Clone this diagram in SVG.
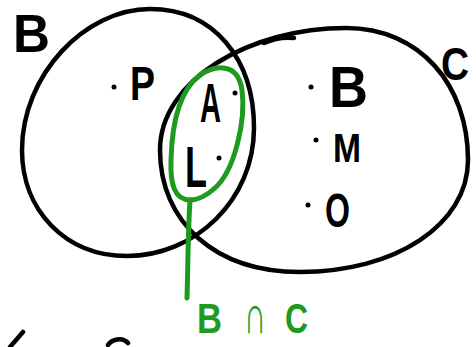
<svg xmlns="http://www.w3.org/2000/svg" width="476" height="347" viewBox="0 0 476 347">
<style>
.ink{fill:none;stroke:#000;stroke-width:4.5;stroke-linecap:round;stroke-linejoin:round}
.grn{fill:none;stroke:#1e9a1e;stroke-width:5;stroke-linecap:round;stroke-linejoin:round}
.t{font-family:"Liberation Sans","DejaVu Sans",sans-serif;font-weight:bold;fill:#000}
.tg{font-family:"Liberation Sans","DejaVu Sans",sans-serif;font-weight:bold;fill:#1e9a1e}
.dot{fill:#000}
</style>
<rect width="476" height="347" fill="#fff"/>
<g id="set-B">
<path class="ink" d="M150,9 C215,9 254,60 254,128 C254,200 195,256 127,256 C65,256 22,210 22,150 C22,75 85,9 150,9 Z"/>
<text class="t" x="13" y="52" font-size="54" textLength="37" lengthAdjust="spacingAndGlyphs">B</text>
</g>
<g id="set-C">
<path class="ink" d="M346,28 C420,28 468,85 468,160 C468,225 395,272 300,272 C215,272 160,222 160,150 C160,80 250,28 346,28 Z"/>
<path class="ink" d="M264,43 C275,38 285,37 294,38"/>
<text class="t" x="441" y="80" font-size="46" textLength="28" lengthAdjust="spacingAndGlyphs">C</text>
</g>
<g id="elem-P">
<circle class="dot" cx="114" cy="87" r="2.5"/>
<text class="t" x="130" y="100" font-size="49" textLength="25" lengthAdjust="spacingAndGlyphs">P</text>
</g>
<g id="elem-A">
<text class="t" x="200" y="122" font-size="56" textLength="21" lengthAdjust="spacingAndGlyphs">A</text>
<circle class="dot" cx="235" cy="93" r="2.5"/>
</g>
<g id="elem-L">
<text class="t" x="185" y="187" font-size="58" textLength="22" lengthAdjust="spacingAndGlyphs">L</text>
<circle class="dot" cx="219" cy="158" r="2.5"/>
</g>
<g id="elem-B">
<circle class="dot" cx="311" cy="87" r="2.5"/>
<text class="t" x="329" y="107" font-size="58" textLength="39" lengthAdjust="spacingAndGlyphs">B</text>
</g>
<g id="elem-M">
<circle class="dot" cx="316" cy="140" r="2.5"/>
<text class="t" x="333" y="162" font-size="40" textLength="28" lengthAdjust="spacingAndGlyphs">M</text>
</g>
<g id="elem-O">
<circle class="dot" cx="308" cy="205" r="2.5"/>
<text class="t" x="325" y="227" font-size="49" textLength="25" lengthAdjust="spacingAndGlyphs">O</text>
</g>
<g id="intersection">
<path class="grn" d="M190,200 C175,200 170,185 171,160 C172,120 180,90 200,75 C215,65 238,62 242,90 C246,120 235,170 215,188 C205,197 197,200 190,200 Z"/>
</g>
<g id="connectors">
<path class="grn" d="M190,200 C188,230 188,265 187,298"/>
</g>
<g id="label-BnC">
<text class="tg" y="333" font-size="42"><tspan x="197" textLength="25" lengthAdjust="spacingAndGlyphs">B</tspan><tspan x="244" font-size="54" textLength="22" lengthAdjust="spacingAndGlyphs">∩</tspan><tspan x="285" font-size="42" textLength="23" lengthAdjust="spacingAndGlyphs">C</tspan></text>
</g>
<g id="fragments">
<path class="ink" d="M10,347 L23,332"/>
<path class="ink" d="M108,345 C111,340 122,336 128,343"/>
</g>
</svg>
